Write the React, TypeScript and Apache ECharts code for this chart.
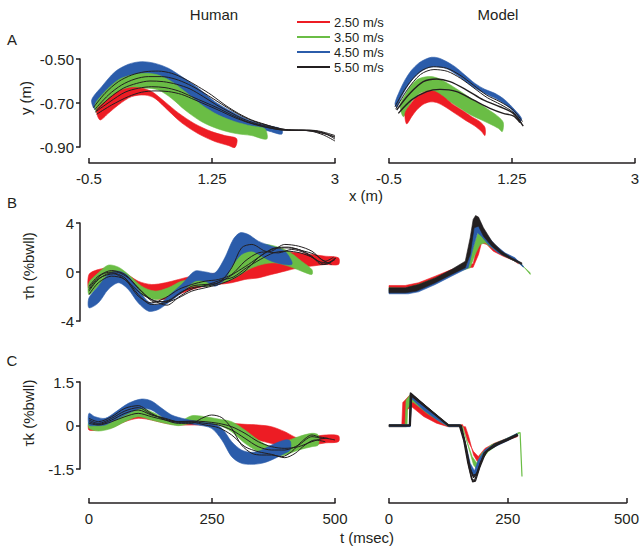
import React, { useEffect, useRef } from "react";
import * as echarts from "echarts";

type P = [number, number];

const speedLabels = ["2.50 m/s", "3.50 m/s", "4.50 m/s", "5.50 m/s"];
const RED = "#ed1c24";
const GREEN = "#6abd45";
const BLUE = "#2b5caa";
const BLACK = "#231f20";
const speedColors = [RED, GREEN, BLUE, BLACK];

const xTicksA = [-0.5, 1.25, 3];
const yTicksA = [-0.9, -0.7, -0.5];
const yTicksB = [-4, 0, 4];
const yTicksC = [-1.5, 0, 1.5];
const tTicks = [0, 250, 500];

// ---------- Panel A, human (x m, y m) ----------
const hA_red_up: P[] = [[-0.39,-0.732],[-0.272,-0.694],[-0.083,-0.648],[0.107,-0.630],[0.249,-0.633],[0.392,-0.648],[0.581,-0.695],[0.771,-0.745],[1.008,-0.795],[1.245,-0.830],[1.434,-0.848],[1.601,-0.862]];
const hA_red_lo: P[] = [[-0.343,-0.777],[-0.225,-0.747],[-0.083,-0.709],[0.107,-0.671],[0.297,-0.664],[0.439,-0.679],[0.629,-0.735],[0.818,-0.790],[1.056,-0.840],[1.292,-0.875],[1.482,-0.893],[1.577,-0.902]];
const hA_green_up: P[] = [[-0.415,-0.709],[-0.272,-0.648],[-0.083,-0.595],[0.107,-0.573],[0.297,-0.565],[0.487,-0.573],[0.676,-0.603],[0.866,-0.648],[1.103,-0.709],[1.340,-0.755],[1.577,-0.785],[1.814,-0.805],[2.004,-0.818]];
const hA_green_lo: P[] = [[-0.367,-0.751],[-0.225,-0.717],[-0.083,-0.679],[0.107,-0.648],[0.297,-0.633],[0.487,-0.641],[0.676,-0.679],[0.866,-0.732],[1.103,-0.785],[1.340,-0.818],[1.577,-0.838],[1.814,-0.848],[2.028,-0.864]];
const hA_blue_up: P[] = [[-0.462,-0.686],[-0.320,-0.626],[-0.130,-0.558],[0.060,-0.524],[0.249,-0.512],[0.439,-0.520],[0.629,-0.542],[0.818,-0.580],[1.056,-0.633],[1.292,-0.694],[1.530,-0.739],[1.767,-0.777],[2.004,-0.800],[2.241,-0.818]];
const hA_blue_lo: P[] = [[-0.415,-0.727],[-0.272,-0.671],[-0.083,-0.615],[0.107,-0.588],[0.297,-0.579],[0.487,-0.588],[0.676,-0.618],[0.866,-0.661],[1.103,-0.717],[1.340,-0.762],[1.577,-0.792],[1.814,-0.812],[2.051,-0.827],[2.241,-0.842]];
const hA_black1: P[] = [[-0.438,-0.721],[-0.272,-0.656],[-0.082,-0.603],[0.107,-0.573],[0.297,-0.558],[0.487,-0.555],[0.676,-0.565],[0.866,-0.591],[1.056,-0.626],[1.245,-0.664],[1.435,-0.709],[1.625,-0.747],[1.814,-0.777],[2.004,-0.797],[2.194,-0.815],[2.384,-0.823],[2.573,-0.823],[2.763,-0.827],[3.0,-0.848]];
const hA_black2: P[] = [[-0.424,-0.732],[-0.225,-0.664],[-0.035,-0.618],[0.155,-0.591],[0.344,-0.580],[0.534,-0.580],[0.724,-0.591],[0.913,-0.615],[1.103,-0.648],[1.293,-0.686],[1.482,-0.724],[1.672,-0.759],[1.862,-0.785],[2.052,-0.803],[2.241,-0.818],[2.431,-0.824],[2.621,-0.824],[2.810,-0.833],[3.0,-0.857]];
const hA_black3: P[] = [[-0.415,-0.742],[-0.201,-0.694],[0.012,-0.651],[0.202,-0.633],[0.392,-0.626],[0.581,-0.630],[0.771,-0.645],[0.961,-0.671],[1.150,-0.697],[1.340,-0.724],[1.530,-0.754],[1.720,-0.782],[1.909,-0.800],[2.099,-0.815],[2.289,-0.824],[2.478,-0.824],[2.668,-0.827],[2.858,-0.839],[3.0,-0.864]];
const hA_black4: P[] = [[-0.391,-0.751],[-0.177,-0.709],[0.060,-0.671],[0.249,-0.651],[0.439,-0.645],[0.629,-0.648],[0.818,-0.661],[1.008,-0.686],[1.198,-0.712],[1.388,-0.739],[1.577,-0.767],[1.767,-0.789],[1.957,-0.806],[2.146,-0.818],[2.336,-0.824],[2.526,-0.824],[2.716,-0.830],[3.0,-0.853]];
const hA_black5: P[] = [[-0.405,-0.736],[-0.215,-0.679],[-0.012,-0.633],[0.178,-0.611],[0.368,-0.600],[0.558,-0.603],[0.747,-0.615],[0.937,-0.636],[1.127,-0.671],[1.316,-0.709],[1.506,-0.742],[1.696,-0.773],[1.886,-0.794],[2.075,-0.809],[2.265,-0.821],[2.455,-0.824],[2.645,-0.827],[2.834,-0.845],[3.0,-0.873]];

// ---------- Panel A, model ----------
const mA_blue_up: P[] = [[-0.415,-0.701],[-0.343,-0.641],[-0.272,-0.595],[-0.177,-0.550],[-0.082,-0.520],[0.012,-0.502],[0.107,-0.492],[0.202,-0.495],[0.297,-0.508],[0.439,-0.535],[0.581,-0.573],[0.724,-0.611],[0.866,-0.638],[1.008,-0.656],[1.150,-0.686],[1.293,-0.732],[1.388,-0.770]];
const mA_blue_lo: P[] = [[-0.391,-0.720],[-0.320,-0.671],[-0.225,-0.618],[-0.130,-0.580],[-0.035,-0.555],[0.060,-0.539],[0.155,-0.535],[0.249,-0.538],[0.344,-0.547],[0.487,-0.577],[0.629,-0.611],[0.771,-0.641],[0.913,-0.664],[1.056,-0.686],[1.198,-0.717],[1.317,-0.755],[1.364,-0.785]];
const mA_green_up: P[] = [[-0.343,-0.709],[-0.272,-0.664],[-0.201,-0.626],[-0.106,-0.595],[-0.011,-0.583],[0.083,-0.580],[0.178,-0.585],[0.297,-0.603],[0.463,-0.636],[0.629,-0.671],[0.795,-0.705],[0.937,-0.735],[1.056,-0.762],[1.127,-0.789]];
const mA_green_lo: P[] = [[-0.296,-0.762],[-0.225,-0.720],[-0.154,-0.683],[-0.059,-0.656],[0.036,-0.647],[0.131,-0.650],[0.226,-0.664],[0.368,-0.694],[0.510,-0.724],[0.652,-0.752],[0.795,-0.774],[0.937,-0.795],[1.056,-0.815],[1.113,-0.830]];
const mA_red_up: P[] = [[-0.272,-0.747],[-0.201,-0.709],[-0.130,-0.679],[-0.035,-0.656],[0.060,-0.645],[0.155,-0.648],[0.273,-0.671],[0.392,-0.702],[0.534,-0.732],[0.676,-0.762],[0.795,-0.785],[0.866,-0.811]];
const mA_red_lo: P[] = [[-0.249,-0.795],[-0.177,-0.762],[-0.106,-0.732],[-0.011,-0.706],[0.083,-0.695],[0.178,-0.698],[0.297,-0.717],[0.439,-0.747],[0.581,-0.777],[0.724,-0.805],[0.818,-0.830],[0.866,-0.848]];
const mA_black1: P[] = [[-0.415,-0.717],[-0.249,-0.626],[-0.059,-0.558],[0.131,-0.535],[0.321,-0.542],[0.510,-0.573],[0.700,-0.618],[0.890,-0.664],[1.079,-0.694],[1.269,-0.732],[1.402,-0.785]];
const mA_black2: P[] = [[-0.405,-0.728],[-0.240,-0.640],[-0.050,-0.570],[0.140,-0.548],[0.330,-0.556],[0.520,-0.588],[0.710,-0.632],[0.900,-0.676],[1.090,-0.707],[1.280,-0.745],[1.385,-0.790]];
const mA_black3: P[] = [[-0.391,-0.732],[-0.201,-0.656],[-0.012,-0.603],[0.178,-0.591],[0.368,-0.603],[0.605,-0.641],[0.842,-0.686],[1.079,-0.717],[1.269,-0.747],[1.411,-0.805]];
const mA_black4: P[] = [[-0.367,-0.747],[-0.178,-0.686],[0.036,-0.648],[0.226,-0.638],[0.463,-0.648],[0.700,-0.686],[0.937,-0.724],[1.127,-0.747],[1.269,-0.759],[1.364,-0.789]];

// ---------- Panel B, human (t msec, %bwll) ----------
const hB_red_up: P[] = [[0,-0.20],[19,0.20],[46,0.34],[73,-0.07],[100,-0.75],[127,-1.02],[155,-0.88],[182,-0.61],[209,-0.34],[236,-0.20],[263,-0.07],[290,0.34],[317,0.88],[344,1.43],[371,1.70],[398,1.65],[426,1.56],[453,1.43],[480,1.29],[507,1.16]];
const hB_red_lo: P[] = [[0,-1.43],[19,-0.75],[46,-0.34],[73,-0.75],[100,-1.70],[127,-2.11],[155,-2.24],[182,-1.84],[209,-1.43],[236,-1.16],[263,-1.02],[290,-0.88],[317,-0.61],[344,-0.48],[371,-0.20],[398,0.07],[426,0.34],[453,0.48],[480,0.61],[507,0.61]];
const hB_green_up: P[] = [[0,-0.88],[19,-0.07],[39,0.56],[60,0.39],[80,-0.20],[107,-1.16],[134,-1.56],[161,-1.29],[188,-0.75],[215,-0.61],[243,-0.61],[270,-0.20],[297,1.02],[324,1.84],[351,2.25],[378,2.11],[405,1.70],[432,0.88],[453,0.20]];
const hB_green_lo: P[] = [[0,-1.84],[19,-1.16],[39,-0.48],[60,-0.48],[80,-1.02],[107,-1.84],[134,-2.24],[161,-1.97],[188,-1.43],[215,-1.16],[243,-1.16],[270,-0.88],[297,-0.48],[324,0.20],[351,0.61],[378,0.75],[405,0.48],[432,0.07],[453,-0.20]];
const hB_blue_up: P[] = [[0,-2.11],[19,-1.16],[39,-0.20],[60,0.07],[80,-0.34],[100,-1.43],[121,-2.44],[141,-2.65],[161,-1.97],[188,-1.02],[215,0.07],[236,0.01],[256,-0.07],[276,1.16],[293,2.65],[307,3.20],[324,3.06],[344,2.52],[371,2.11],[398,1.70],[412,0.88]];
const hB_blue_lo: P[] = [[0,-2.92],[19,-2.52],[39,-1.43],[60,-0.88],[80,-1.43],[100,-2.52],[121,-3.20],[141,-3.06],[161,-2.52],[188,-1.70],[215,-0.75],[236,-0.75],[256,-1.16],[276,-0.61],[293,0.61],[310,1.43],[331,1.70],[351,1.29],[371,0.88],[398,0.61],[412,0.61]];
const hB_black1: P[] = [[0,-1.16],[19,-0.34],[46,0.12],[73,-0.20],[100,-1.29],[127,-2.24],[155,-2.44],[182,-1.84],[209,-1.16],[236,-1.02],[263,-0.88],[290,0.34],[310,1.97],[331,2.25],[358,1.70],[385,1.56],[412,1.84],[439,1.56],[466,0.88],[486,0.75],[500,1.16]];
const hB_black2: P[] = [[0,-1.56],[19,-0.61],[46,-0.07],[73,-0.48],[100,-1.84],[127,-2.65],[155,-2.52],[182,-2.11],[209,-1.56],[236,-1.29],[263,-1.02],[290,-0.61],[317,0.07],[344,1.16],[371,1.84],[398,1.97],[426,1.84],[453,1.29],[473,0.61],[493,0.88],[507,1.29]];
const hB_black3: P[] = [[0,-1.84],[19,-0.88],[46,-0.34],[73,-0.61],[100,-1.97],[127,-2.52],[155,-2.11],[182,-1.43],[209,-1.02],[236,-0.75],[263,-0.61],[290,-0.20],[317,0.88],[344,1.56],[371,1.70],[398,2.25],[426,2.11],[453,1.70],[473,1.02],[493,0.61]];
const hB_black4: P[] = [[0,-1.43],[22,-0.48],[50,-0.15],[77,-0.75],[104,-1.70],[131,-2.33],[158,-2.71],[185,-1.97],[212,-1.35],[239,-1.07],[266,-0.69],[293,-0.42],[320,0.34],[348,1.02],[375,1.56],[402,1.70],[429,1.56],[456,1.16],[480,0.61],[500,1.02]];
const hB_black5: P[] = [[0,-1.29],[26,-0.20],[53,0.01],[80,-0.48],[107,-1.62],[134,-2.44],[161,-2.33],[188,-1.62],[215,-1.24],[243,-1.13],[270,-0.75],[297,-0.07],[324,0.61],[351,1.37],[378,1.97],[405,2.03],[432,1.76],[459,1.43],[480,0.88],[497,1.21]];

// ---------- Panel B, model ----------
const mB_red_up: P[] = [[0,-1.10],[33,-1.10],[60,-0.88],[94,-0.34],[127,0.20],[161,0.61],[171,0.67],[180,2.24],[187,3.01],[194,2.84],[205,2.30],[222,1.70],[243,1.21],[263,0.83]];
const mB_red_lo: P[] = [[0,-1.29],[33,-1.29],[60,-1.07],[94,-0.61],[127,-0.07],[161,0.34],[171,0.39],[182,1.43],[188,2.38],[199,2.24],[212,1.70],[232,1.29],[253,0.94],[263,0.67]];
const mB_green_up: P[] = [[0,-1.29],[33,-1.35],[60,-1.02],[94,-0.53],[127,0.07],[161,0.48],[171,1.97],[182,3.33],[188,3.06],[202,2.38],[222,1.70],[243,1.21],[263,0.75],[276,0.34],[287,-0.07]];
const mB_green_lo: P[] = [[0,-1.51],[33,-1.51],[60,-1.29],[94,-0.75],[127,-0.15],[165,0.34],[175,1.43],[185,2.24],[195,2.38],[209,1.97],[229,1.43],[249,1.02],[270,0.61],[287,-0.20]];
const mB_blue_up: P[] = [[0,-1.43],[39,-1.51],[60,-1.29],[94,-0.75],[127,-0.07],[158,0.61],[168,2.79],[176,4.15],[185,4.01],[195,3.20],[215,2.24],[236,1.56],[256,1.16],[273,0.48]];
const mB_blue_lo: P[] = [[0,-1.78],[39,-1.78],[60,-1.62],[94,-1.02],[127,-0.34],[161,0.34],[171,1.97],[180,3.20],[188,2.92],[202,2.24],[222,1.56],[243,1.16],[263,0.75],[273,0.39]];
const mB_black_up: P[] = [[0,-1.29],[33,-1.29],[60,-1.02],[94,-0.48],[127,0.20],[155,0.88],[165,2.79],[171,4.29],[176,4.61],[182,4.48],[192,3.61],[209,2.52],[229,1.70],[249,1.16],[270,0.75]];
const mB_black_lo: P[] = [[0,-1.70],[33,-1.70],[56,-1.56],[94,-0.88],[127,-0.20],[155,0.34],[165,1.43],[173,3.61],[182,3.74],[192,2.92],[209,2.11],[229,1.43],[249,1.02],[270,0.61]];

// ---------- Panel C, human ----------
const hC_red_up: P[] = [[0,0.040],[19,0.017],[46,0.074],[73,0.362],[100,0.477],[127,0.362],[155,0.270],[182,0.155],[209,0.247],[236,0.189],[263,0.132],[290,0.074],[317,0.040],[344,0.017],[371,-0.041],[398,-0.213],[426,-0.443],[453,-0.385],[480,-0.328],[507,-0.351]];
const hC_red_lo: P[] = [[0,-0.156],[19,-0.156],[46,-0.075],[73,0.132],[100,0.247],[127,0.189],[155,0.074],[182,0.017],[209,0.017],[236,0.017],[263,0.017],[290,-0.098],[317,-0.330],[344,-0.500],[371,-0.620],[398,-0.700],[426,-0.750],[453,-0.680],[480,-0.600],[507,-0.558]];
const hC_green_up: P[] = [[0,0.132],[19,0.074],[46,0.247],[73,0.534],[100,0.649],[127,0.477],[155,0.247],[182,0.132],[209,0.339],[236,0.304],[263,0.224],[290,0.132],[317,-0.156],[344,-0.500],[371,-0.730],[398,-0.558],[426,-0.385],[453,-0.270],[466,-0.328]];
const hC_green_lo: P[] = [[0,-0.098],[19,-0.190],[46,-0.098],[73,0.132],[100,0.304],[127,0.189],[155,0.074],[182,-0.006],[209,0.074],[236,0.074],[263,0.017],[290,-0.213],[317,-0.615],[344,-0.903],[371,-1.075],[398,-1.018],[426,-0.845],[453,-0.730],[466,-0.673]];
const hC_blue_up: P[] = [[0,0.419],[12,0.304],[33,0.247],[53,0.454],[80,0.764],[107,0.913],[127,0.844],[148,0.592],[168,0.362],[195,0.224],[222,0.132],[249,0.074],[270,-0.098],[290,-0.558],[310,-0.845],[331,-0.926],[351,-0.845],[371,-0.673],[398,-0.500],[409,-0.535]];
const hC_blue_lo: P[] = [[0,0.017],[12,-0.006],[33,0.017],[53,0.189],[80,0.419],[107,0.592],[127,0.534],[148,0.304],[168,0.132],[195,0.074],[222,0.017],[249,-0.098],[270,-0.500],[290,-1.075],[310,-1.305],[331,-1.339],[351,-1.305],[371,-1.190],[398,-0.960],[409,-0.845]];
const hC_black1: P[] = [[0,0.247],[19,0.132],[46,0.304],[73,0.592],[100,0.684],[127,0.419],[155,0.189],[182,0.074],[209,0.074],[229,0.247],[249,0.362],[270,0.270],[290,-0.098],[310,-0.673],[331,-0.960],[351,-1.018],[371,-1.018],[392,-1.075],[412,-0.903],[432,-0.558],[453,-0.328],[466,-0.385],[486,-0.443]];
const hC_black2: P[] = [[0,0.132],[19,0.040],[46,0.189],[73,0.419],[100,0.534],[127,0.362],[155,0.247],[182,0.132],[209,0.132],[236,0.074],[263,0.017],[290,-0.156],[317,-0.443],[344,-0.730],[371,-0.845],[398,-0.845],[426,-0.673],[453,-0.385],[473,-0.443]];
const hC_black3: P[] = [[0,0.074],[19,0.017],[46,0.132],[73,0.304],[100,0.419],[127,0.304],[155,0.189],[182,0.132],[209,0.155],[236,0.132],[263,0.074],[290,-0.041],[317,-0.270],[344,-0.558],[371,-0.730],[398,-0.788],[426,-0.730],[453,-0.558],[480,-0.443],[500,-0.500]];
const hC_black4: P[] = [[0,0.189],[19,0.074],[46,0.247],[73,0.500],[100,0.615],[127,0.385],[155,0.224],[182,0.109],[209,0.109],[236,0.017],[263,-0.075],[290,-0.328],[317,-0.730],[344,-0.903],[371,-0.995],[398,-1.110],[419,-0.960],[439,-0.673],[459,-0.500],[480,-0.558]];

// ---------- Panel C, model ----------
const mC_red_up: P[] = [[0,0.03],[27,0.03],[29,0.79],[46,1.09],[121,0.03],[155,0.03],[165,-0.50],[178,-0.90],[188,-1.07],[202,-0.79],[222,-0.61],[249,-0.44],[270,-0.33]];
const mC_red_lo: P[] = [[0,-0.04],[36,-0.04],[38,0.53],[46,0.67],[73,0.31],[100,0.08],[124,-0.04],[161,-0.04],[168,-0.39],[178,-1.02],[188,-1.30],[195,-1.19],[209,-0.84],[229,-0.67],[249,-0.50],[270,-0.39]];
const mC_green_up: P[] = [[0,0.03],[34,0.03],[36,0.88],[46,1.09],[124,0.03],[151,0.03],[161,-0.39],[175,-1.07],[185,-1.30],[195,-0.96],[215,-0.67],[243,-0.48],[273,-0.25]];
const mC_green_lo: P[] = [[0,-0.04],[38,-0.04],[39,0.59],[50,0.82],[80,0.42],[107,0.13],[126,-0.04],[155,-0.04],[165,-0.61],[178,-1.36],[185,-1.51],[195,-1.19],[209,-0.90],[229,-0.67],[256,-0.44],[273,-0.29]];
const mC_green_tail: P[] = [[271,-0.27],[276,-0.24],[280,-1.76]];
const mC_blue_up: P[] = [[0,0.03],[43,0.03],[45,1.09],[50,1.05],[124,0.03],[149,0.03],[158,-0.39],[171,-1.30],[180,-1.56],[188,-1.19],[202,-0.84],[222,-0.64],[249,-0.44],[270,-0.27]];
const mC_blue_lo: P[] = [[0,-0.04],[45,-0.04],[47,0.94],[73,0.53],[100,0.21],[126,-0.04],[152,-0.04],[161,-0.73],[175,-1.71],[182,-1.76],[192,-1.30],[205,-0.90],[226,-0.71],[253,-0.50],[270,-0.33]];
const mC_black1: P[] = [[0,0],[43,0],[45,1.13],[124,0],[148,0],[157,-0.50],[166,-1.30],[174,-1.85],[180,-1.90],[188,-1.55],[200,-0.95],[222,-0.64],[249,-0.46],[270,-0.30]];
const mC_black2: P[] = [[0,0],[44,0],[46,1.09],[126,0],[150,0],[160,-0.60],[169,-1.45],[176,-1.94],[182,-1.92],[191,-1.45],[204,-0.92],[226,-0.66],[252,-0.47],[271,-0.32]];
const mC_black3: P[] = [[0,0],[45,0],[47,1.02],[125,0],[152,0],[162,-0.70],[172,-1.55],[178,-1.80],[186,-1.62],[196,-1.15],[208,-0.86],[229,-0.66],[255,-0.47],[272,-0.34]];
const mC_black4: P[] = [[0,0],[44,0],[48,1.05],[127,0],[151,0],[159,-0.55],[168,-1.35],[177,-1.72],[184,-1.68],[193,-1.25],[206,-0.88],[225,-0.67],[250,-0.48],[270,-0.31]];

const FONT = '"Liberation Sans", Arial, sans-serif';

function band(upper: P[], lower: P[], color: string, g: number, smooth: number) {
  const pts: P[] = upper.concat(lower.slice().reverse());
  return {
    type: "custom",
    xAxisIndex: g,
    yAxisIndex: g,
    silent: true,
    clip: false,
    z: 2,
    data: pts,
    renderItem: (params: any, api: any) => {
      if (params.dataIndex !== 0) return null;
      const points = pts.map((p) => api.coord(p));
      return {
        type: "polygon",
        shape: { points, smooth },
        style: { fill: color, stroke: color, lineWidth: 0.6 },
      };
    },
  };
}

function line(data: P[], color: string, g: number, smooth: number, width = 1) {
  return {
    type: "line",
    xAxisIndex: g,
    yAxisIndex: g,
    data,
    symbol: "none",
    showSymbol: false,
    smooth,
    clip: false,
    silent: true,
    z: 3,
    lineStyle: { color, width },
  };
}

const axisLine = { show: true, onZero: false, lineStyle: { color: BLACK, width: 1.5 } };
const labelStyle = { color: BLACK, fontSize: 15, fontFamily: FONT };

function xAxisDef(g: number, min: number, max: number, show: boolean, offset: number, ticks: number[], fmt: (v: number) => string) {
  return {
    gridIndex: g,
    type: "value",
    min,
    max,
    show,
    offset,
    position: "bottom",
    axisLine,
    axisTick: { show: true, inside: true, length: 5, lineStyle: { color: BLACK, width: 1.5 }, customValues: ticks },
    axisLabel: { ...labelStyle, margin: 8, customValues: ticks, formatter: fmt },
    splitLine: { show: false },
  };
}

function yAxisDef(g: number, min: number, max: number, show: boolean, ticks: number[], fmt: (v: number) => string) {
  return {
    gridIndex: g,
    type: "value",
    min,
    max,
    show,
    offset: 9,
    position: "left",
    axisLine,
    axisTick: { show: true, inside: false, length: 4, lineStyle: { color: BLACK, width: 1.5 }, customValues: ticks },
    axisLabel: { ...labelStyle, margin: 6, customValues: ticks, formatter: fmt },
    splitLine: { show: false },
  };
}

function txt(text: string, x: number, y: number, size: number, align = "center", rotation = 0) {
  return {
    type: "text",
    x,
    y,
    rotation,
    silent: true,
    style: { text, fill: BLACK, font: `${size}px ${FONT}`, align, verticalAlign: "middle" },
  };
}

export default function App() {
  const ref = useRef<HTMLDivElement>(null);
  useEffect(() => {
    if (!ref.current) return;
    const chart = echarts.init(ref.current, undefined, { renderer: "svg" });
    const fmtA = (v: number) => String(v);
    const fmtY = (v: number) => v.toFixed(2);
    const fmtI = (v: number) => String(v);

    const legendEls: any[] = [];
    speedLabels.forEach((lab, i) => {
      const y = 22 + i * 15;
      legendEls.push({ type: "line", silent: true, shape: { x1: 297, y1: y, x2: 330, y2: y }, style: { stroke: speedColors[i], lineWidth: 2 } });
      legendEls.push(txt(lab, 334, y, 13, "left"));
    });

    const option: any = {
      animation: false,
      backgroundColor: "#ffffff",
      grid: [
        { left: 89, top: 59, width: 246, height: 88 },
        { left: 389, top: 59, width: 246, height: 88 },
        { left: 89, top: 223, width: 246, height: 98 },
        { left: 389, top: 223, width: 246, height: 98 },
        { left: 89, top: 382, width: 246, height: 87 },
        { left: 389, top: 382, width: 246, height: 87 },
      ],
      xAxis: [
        xAxisDef(0, -0.5, 3, true, 16, xTicksA, fmtA),
        xAxisDef(1, -0.5, 3, true, 16, xTicksA, fmtA),
        xAxisDef(2, 0, 500, false, 0, tTicks, fmtI),
        xAxisDef(3, 0, 500, false, 0, tTicks, fmtI),
        xAxisDef(4, 0, 500, true, 34, tTicks, fmtI),
        xAxisDef(5, 0, 500, true, 34, tTicks, fmtI),
      ],
      yAxis: [
        yAxisDef(0, -0.9, -0.5, true, yTicksA, fmtY),
        yAxisDef(1, -0.9, -0.5, false, yTicksA, fmtY),
        yAxisDef(2, -4, 4, true, yTicksB, fmtI),
        yAxisDef(3, -4, 4, false, yTicksB, fmtI),
        yAxisDef(4, -1.5, 1.5, true, yTicksC, fmtI),
        yAxisDef(5, -1.5, 1.5, false, yTicksC, fmtI),
      ],
      series: [
        // A human
        band(hA_blue_up, hA_blue_lo, BLUE, 0, 0.3),
        band(hA_green_up, hA_green_lo, GREEN, 0, 0.3),
        band(hA_red_up, hA_red_lo, RED, 0, 0.3),
        line(hA_black1, BLACK, 0, 0.3),
        line(hA_black2, BLACK, 0, 0.3),
        line(hA_black3, BLACK, 0, 0.3),
        line(hA_black4, BLACK, 0, 0.3),
        line(hA_black5, BLACK, 0, 0.3),
        // A model
        band(mA_blue_up, mA_blue_lo, BLUE, 1, 0.3),
        band(mA_green_up, mA_green_lo, GREEN, 1, 0.3),
        band(mA_red_up, mA_red_lo, RED, 1, 0.3),
        line(mA_black1, BLACK, 1, 0.3),
        line(mA_black2, BLACK, 1, 0.3),
        line(mA_black3, BLACK, 1, 0.3, 1.4),
        line(mA_black4, BLACK, 1, 0.3, 1.4),
        // B human
        band(hB_red_up, hB_red_lo, RED, 2, 0.3),
        band(hB_green_up, hB_green_lo, GREEN, 2, 0.3),
        band(hB_blue_up, hB_blue_lo, BLUE, 2, 0.3),
        line(hB_black1, BLACK, 2, 0.3),
        line(hB_black2, BLACK, 2, 0.3),
        line(hB_black3, BLACK, 2, 0.3),
        line(hB_black4, BLACK, 2, 0.3),
        line(hB_black5, BLACK, 2, 0.3),
        // B model
        band(mB_red_up, mB_red_lo, RED, 3, 0),
        band(mB_green_up, mB_green_lo, GREEN, 3, 0),
        band(mB_blue_up, mB_blue_lo, BLUE, 3, 0),
        band(mB_black_up, mB_black_lo, BLACK, 3, 0),
        // C human
        band(hC_red_up, hC_red_lo, RED, 4, 0.3),
        band(hC_green_up, hC_green_lo, GREEN, 4, 0.3),
        band(hC_blue_up, hC_blue_lo, BLUE, 4, 0.3),
        line(hC_black1, BLACK, 4, 0.3),
        line(hC_black2, BLACK, 4, 0.3),
        line(hC_black3, BLACK, 4, 0.3),
        line(hC_black4, BLACK, 4, 0.3),
        // C model
        band(mC_red_up, mC_red_lo, RED, 5, 0),
        band(mC_green_up, mC_green_lo, GREEN, 5, 0),
        line(mC_green_tail, GREEN, 5, 0, 1.2),
        band(mC_blue_up, mC_blue_lo, BLUE, 5, 0),
        line(mC_black1, BLACK, 5, 0, 1.3),
        line(mC_black2, BLACK, 5, 0, 1.3),
        line(mC_black3, BLACK, 5, 0, 1.3),
        line(mC_black4, BLACK, 5, 0, 1.3),
      ],
      graphic: [
        txt("Human", 214, 14, 15),
        txt("Model", 498, 14, 15),
        txt("A", 12, 39, 15),
        txt("B", 12, 202, 15),
        txt("C", 12, 360, 15),
        txt("y (m)", 25, 98, 15, "center", Math.PI / 2),
        txt("τh (%bwll)", 28, 266, 15, "center", Math.PI / 2),
        txt("τk (%bwll)", 28, 413, 15, "center", Math.PI / 2),
        txt("x (m)", 366, 195, 15),
        txt("t (msec)", 367, 537, 15),
        ...legendEls,
      ],
    };
    chart.setOption(option);
    return () => chart.dispose();
  }, []);
  return <div ref={ref} style={{ position: "fixed", left: 0, top: 0, width: 642, height: 552, background: "#fff" }} />;
}
